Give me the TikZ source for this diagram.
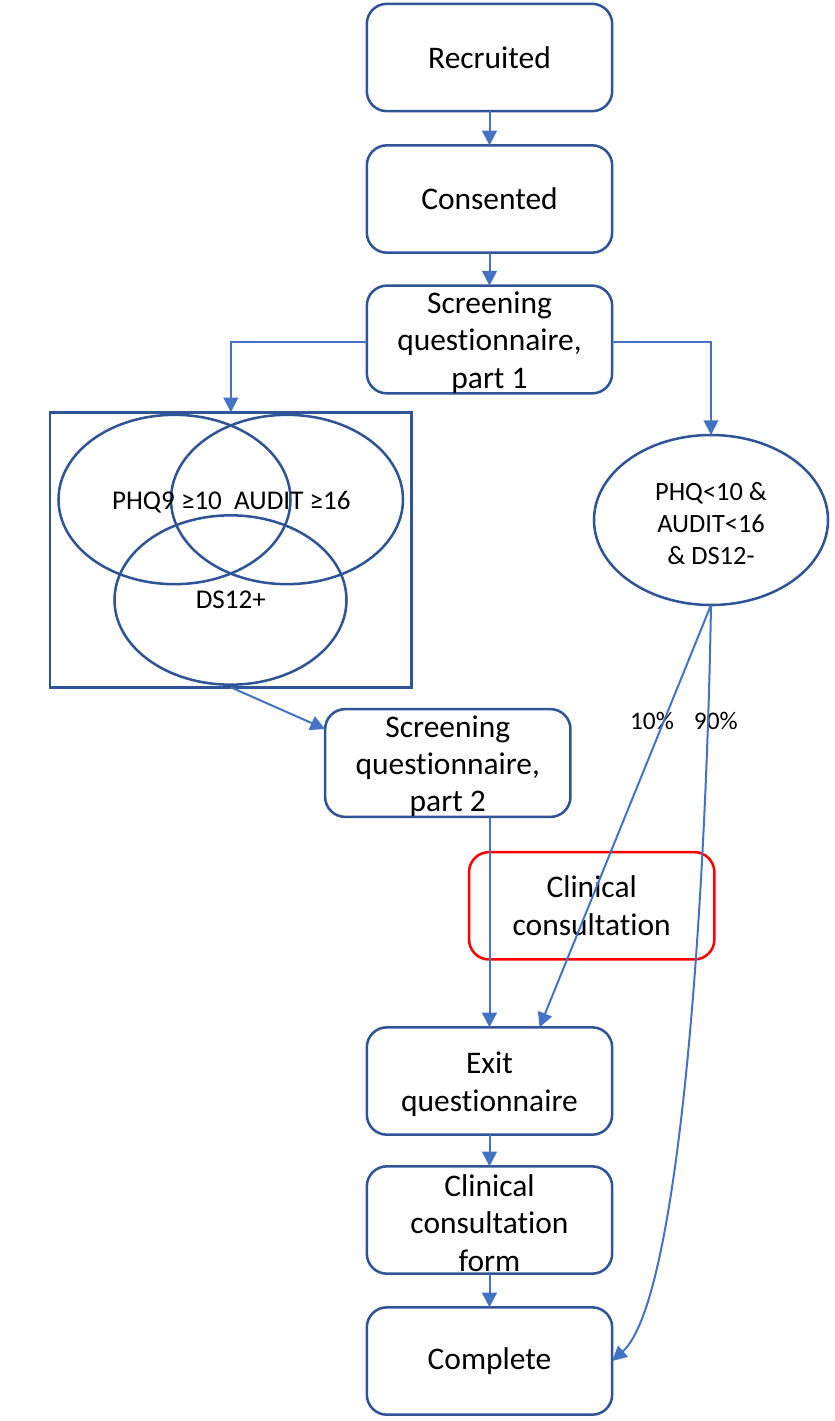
\documentclass[tikz,border=0pt]{standalone}
\usepackage{fontspec}
\setmainfont{Carlito}[Ligatures=NoCommon]
\usetikzlibrary{arrows.meta,shapes.geometric,calc}

\definecolor{boxblue}{RGB}{47,85,151}
\definecolor{linkblue}{RGB}{68,114,196}
\definecolor{alertred}{RGB}{255,0,0}

\newcommand\stagefont{\fontsize{23.6pt}{28pt}\selectfont}
\newcommand\vennfont{\fontsize{20.3pt}{24pt}\selectfont}
\newcommand\pctfont{\fontsize{19pt}{23pt}\selectfont}
% extra room above the first line of a multi-line label
\newcommand\toppad{\rule{0pt}{21pt}}

\begin{document}
\begin{tikzpicture}[x=0.75pt,y=-0.75pt,
  stage/.style={draw=boxblue, line width=1.9pt, rounded corners=15pt,
    minimum width=184pt, minimum height=80.5pt, inner sep=0pt, outer sep=0pt,
    align=center, font=\stagefont},
  alertstage/.style={stage, draw=alertred},
  setoval/.style={ellipse, draw=boxblue, line width=1.9pt, inner sep=0pt, outer sep=0pt,
    minimum width=174pt, minimum height=127pt},
  frame/.style={draw=boxblue, line width=1.9pt, inner sep=0pt, outer sep=0pt,
    minimum width=271.3pt, minimum height=206.3pt},
  settext/.style={font=\vennfont, inner sep=0pt, align=center},
  pct/.style={font=\pctfont, inner sep=0pt},
  link/.style={draw=linkblue, line width=1.5pt, -{Triangle[length=11pt,width=11pt]}}
]
\useasboundingbox (0,0) rectangle (835,1421);

% main column
\node[stage] (rec)  at (489.5,57.5)  {Recruited};
\node[stage] (con)  at (489.5,199)   {Consented};
\node[stage] (sq1)  at (489.5,339.5) {\toppad Screening\\questionnaire,\\part 1};

% screen-positive group
\node[frame] (venn) at (230.85,549.8) {};
\node[setoval] (phq)   at (174.5,499.5) {};
\node[setoval] (audit) at (287,499.5) {};
\node[setoval] (ds)    at (230.5,600) {};
\node[settext, anchor=base] (vlab) at (231.3,509) {PHQ9 ≥10\ \ AUDIT ≥16};
\node[settext, anchor=base] (dslab) at (230.8,608) {DS12+};

% screen-negative group
\node[ellipse, draw=boxblue, line width=1.9pt, inner sep=0pt, outer sep=0pt,
  minimum width=175.5pt, minimum height=127.5pt, align=center,
  font=\fontsize{19.8pt}{24pt}\selectfont] (neg) at (711,520)
  {\rule{0pt}{19pt}PHQ<10 \&\\AUDIT<16\\\& DS12-};

\node[stage] (sq2)  at (447.8,763)  {\toppad Screening\\questionnaire,\\part 2};
\node[alertstage] (clin) at (591.7,905.8) {Clinical\\consultation};
\node[stage] (exit) at (489.5,1081) {\toppad Exit\\questionnaire};
\node[stage] (ccf)  at (489.5,1220) {\toppad Clinical\\consultation\\form};
\node[stage] (comp) at (489.5,1361) {Complete};

\node[pct, anchor=base] (p10) at (652,729) {10\%};
\node[pct, anchor=base] (p90) at (715.8,729) {90\%};

% connectors
\draw[link] (rec.south) -- (con.north);
\draw[link] (con.south) -- (sq1.north);
\draw[link] ([yshift=-2pt]sq1.west) -| (venn.north);
\draw[link] ([yshift=-2pt]sq1.east) -| (neg.north);
\draw[link] (venn.south) -- ([yshift=25.5pt]sq2.west);
\draw[link] (sq2.south -| exit.north) -- (exit.north);
\draw[link] (neg.south) -- ([xshift=37.5pt]exit.north);
\draw[link] (neg.south) .. controls (706,900) and (680,1300) .. (comp.east);
\draw[link] (exit.south) -- (ccf.north);
\draw[link] (ccf.south) -- (comp.north);
\end{tikzpicture}
\end{document}
